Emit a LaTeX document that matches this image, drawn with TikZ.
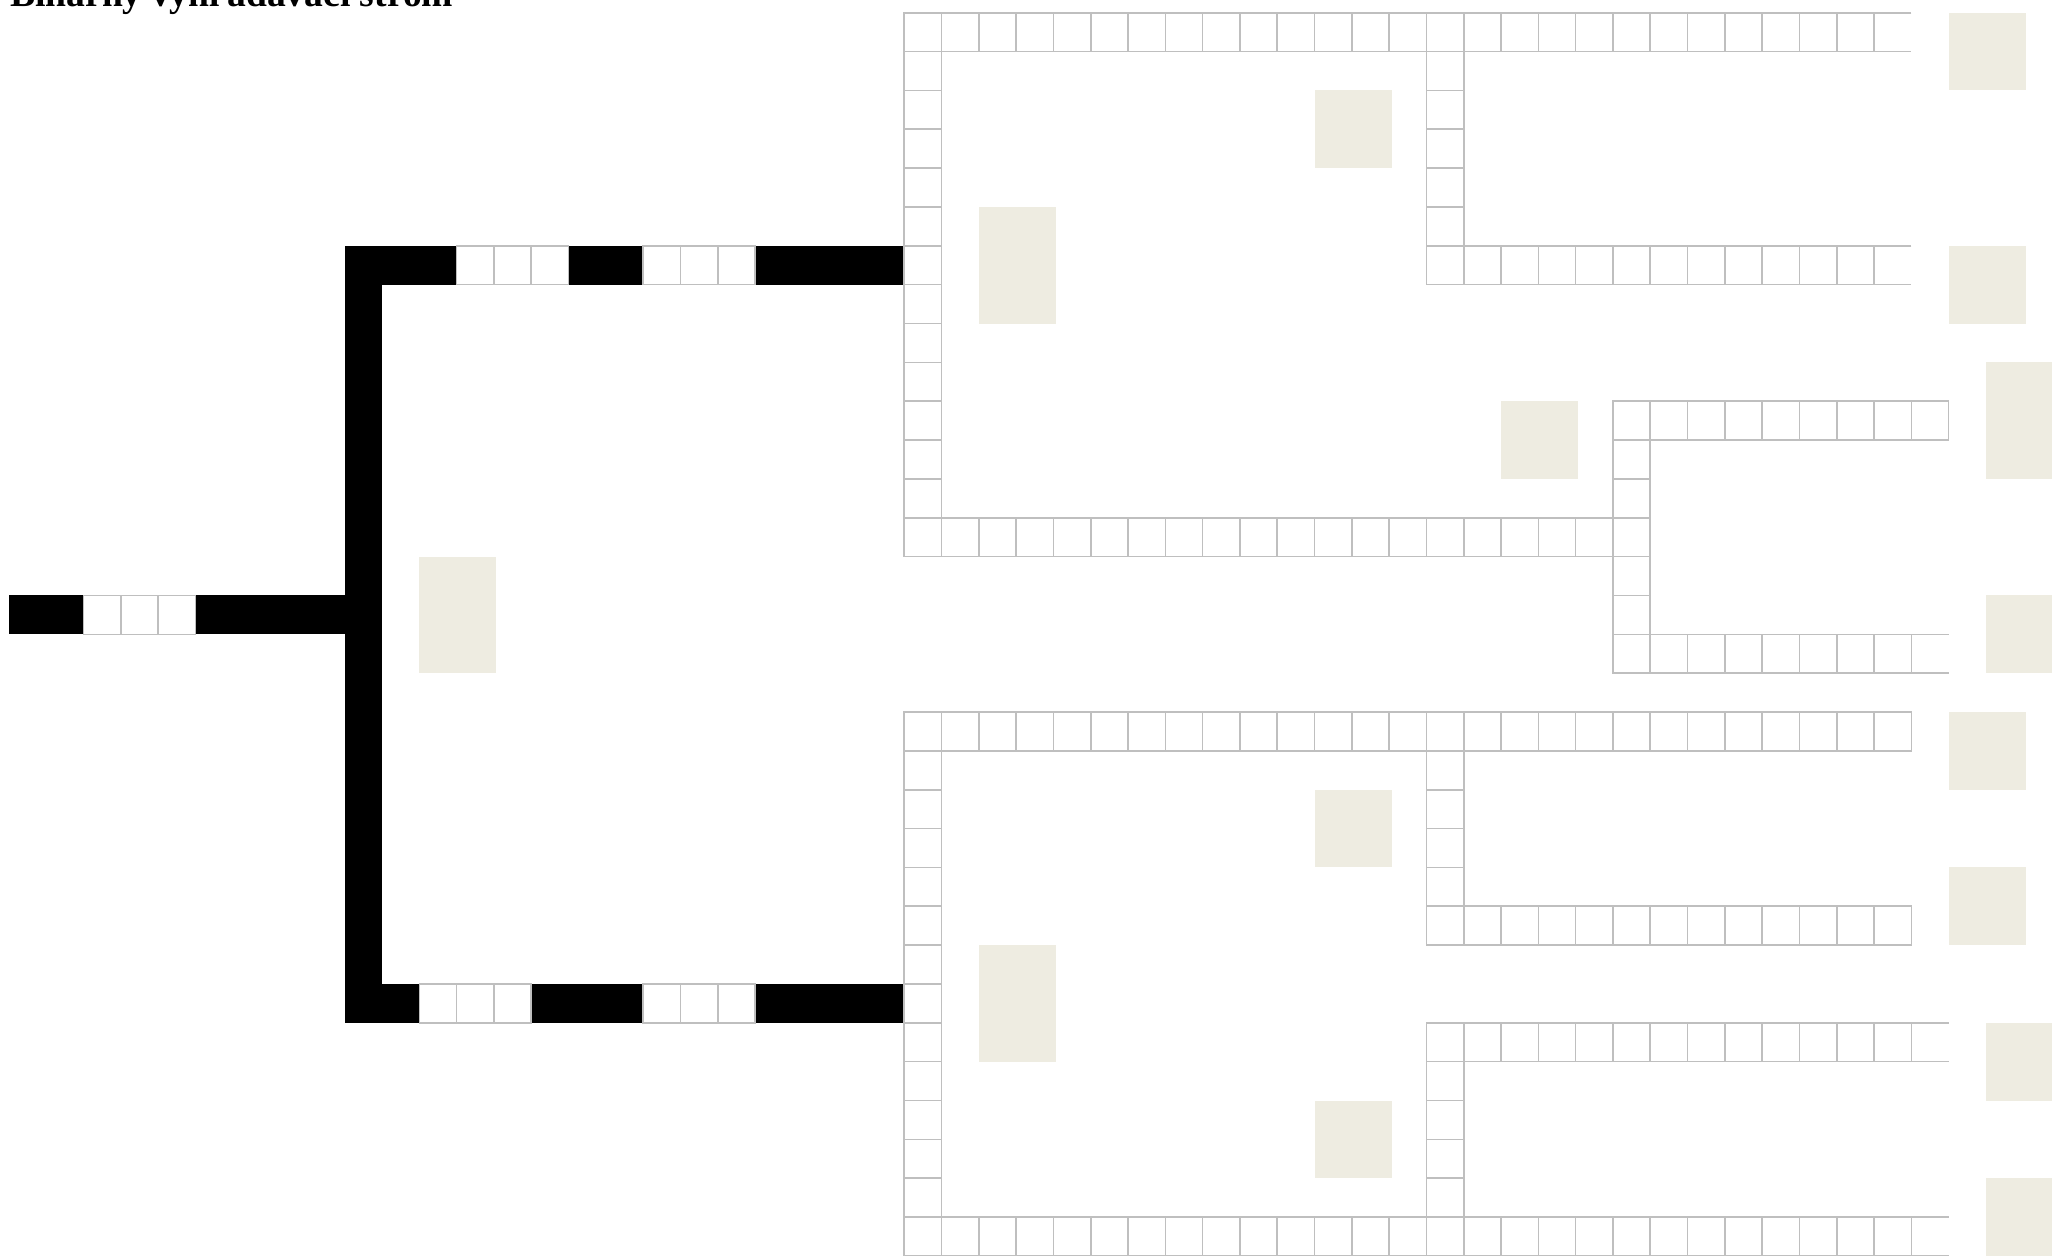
\documentclass[tikz,border=0pt]{standalone}
\usepackage{fontspec}
\setmainfont{Liberation Serif}
\definecolor{gridgrey}{HTML}{BFBFBF}
\definecolor{leafbeige}{HTML}{EEECE1}
\tikzset{
  cellbox/.style={draw=gridgrey, line width=0.8pt, fill=white},
  openbox/.style={draw=gridgrey, line width=0.8pt},
  trackfill/.style={fill=black},
  leafbox/.style={fill=leafbeige},
  titletext/.style={anchor=base west, inner sep=0pt, font=\fontsize{18.8}{20}\selectfont\bfseries},
}
% closed grey cell at column #1, row #2
\newcommand\gcell[2]{\draw[cellbox] (#1,#2) rectangle ++(1,1);}
% grey cell open on its right side
\newcommand\gopen[2]{\draw[openbox] (#1,#2) ++(1,0) -- ++(-1,0) -- ++(0,1) -- ++(1,0);}
% leaf block
\newcommand\leafat[3]{\fill[leafbox] (#1,#2) rectangle ++(2.065,#3);}
\begin{document}
\begin{tikzpicture}[x=18.65pt,y=-19.425pt]
\useasboundingbox (-0.2413,-0.3269) rectangle (54.7721,31.9768);
\clip (-0.2413,-0.3269) rectangle (54.7721,31.9768);
\fill[white] (-0.2413,-0.3269) rectangle (54.7721,31.9768);

% title
\node[titletext] (title) at (0.02,-0.147) {Binárny vyhľadávací strom};

% leaves
\leafat{52}{0}{2}
\leafat{35}{2}{2}
\leafat{26}{5}{3}
\leafat{52}{6}{2}
\leafat{53}{9}{3}
\leafat{40}{10}{2}
\leafat{11}{14}{3}
\leafat{53}{15}{2}
\leafat{52}{18}{2}
\leafat{35}{20}{2}
\leafat{52}{22}{2}
\leafat{26}{24}{3}
\leafat{53}{26}{2}
\leafat{35}{28}{2}
\leafat{53}{30}{2}

% black tracks
\fill[trackfill] (0,15) rectangle (2,16);
\fill[trackfill] (5,15) rectangle (9,16);
\fill[trackfill] (9,6) rectangle (10,26);
\fill[trackfill] (9,6) rectangle (12,7);
\fill[trackfill] (15,6) rectangle (17,7);
\fill[trackfill] (20,6) rectangle (24,7);
\fill[trackfill] (9,25) rectangle (11,26);
\fill[trackfill] (14,25) rectangle (17,26);
\fill[trackfill] (20,25) rectangle (24,26);

% grey cells inside black tracks
\foreach \k in {2,3,4} {\gcell{\k}{15}}
\foreach \k in {12,13,14,17,18,19} {\gcell{\k}{6}}
\foreach \k in {11,12,13,17,18,19} {\gcell{\k}{25}}

% ---- upper grid ----
\foreach \k in {24,...,49} {\gcell{\k}{0}}
\gopen{50}{0}
\foreach \r in {1,...,12} {\gcell{24}{\r}}
\foreach \k in {24,...,43} {\gcell{\k}{13}}
\foreach \r in {1,...,5} {\gcell{38}{\r}}
\foreach \k in {38,...,49} {\gcell{\k}{6}}
\gopen{50}{6}
\foreach \k in {43,...,51} {\gcell{\k}{10}}
\foreach \r in {11,12,14,15} {\gcell{43}{\r}}
\foreach \k in {43,...,50} {\gcell{\k}{16}}
\gopen{51}{16}

% ---- lower grid ----
\foreach \k in {24,...,50} {\gcell{\k}{18}}
\foreach \r in {19,...,30} {\gcell{24}{\r}}
\foreach \k in {24,...,50} {\gcell{\k}{31}}
\gopen{51}{31}
\foreach \r in {19,...,22} {\gcell{38}{\r}}
\foreach \k in {38,...,50} {\gcell{\k}{23}}
\foreach \k in {38,...,50} {\gcell{\k}{26}}
\gopen{51}{26}
\foreach \r in {27,...,30} {\gcell{38}{\r}}
\end{tikzpicture}
\end{document}
